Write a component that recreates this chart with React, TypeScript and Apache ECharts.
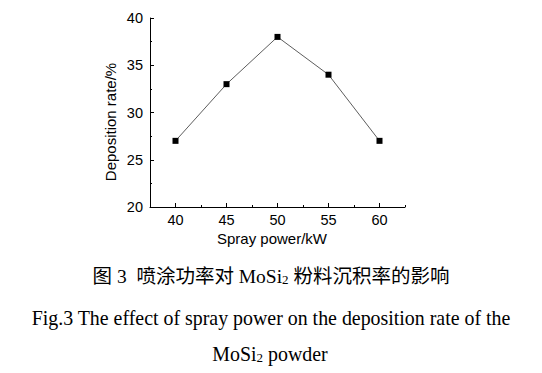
import React, { useEffect, useRef } from "react";
import * as echarts from "echarts";

const powers = [40, 45, 50, 55, 60];
const rates = [27, 33, 38, 34, 27];
const xTicks = [40, 45, 50, 55, 60];
const xName = "Spray power/kW";
const yName = "Deposition rate/%";
const captionCn1 = "图 3  喷涂功率对 MoSi";
const captionCn2 = " 粉料沉积率的影响";
const captionEn1 = "Fig.3 The effect of spray power on the deposition rate of the";
const captionEn2a = "MoSi";
const captionEn2b = " powder";

export default function App() {
  const ref = useRef<HTMLDivElement>(null);
  useEffect(() => {
    if (!ref.current) return;
    const chart = echarts.init(ref.current, null, { renderer: "svg" });
    const axisFont = "Liberation Sans, Arial, sans-serif";
    const serif = "Liberation Serif, Times New Roman, serif";
    chart.setOption({
      animation: false,
      backgroundColor: "#fff",
      grid: { left: 150, right: 137, top: 18, bottom: 166, containLabel: false },
      xAxis: [
        {
          type: "value",
          min: 37.5,
          max: 62.5,
          position: "bottom",
          axisLine: { show: true, lineStyle: { color: "#000", width: 1 } },
          axisTick: { show: true, inside: true, length: 4, customValues: xTicks, lineStyle: { color: "#000" } },
          axisLabel: { show: true, customValues: xTicks, margin: 5, fontFamily: axisFont, fontSize: 14.5, color: "#000" },
          splitLine: { show: false },
        },
        {
          type: "value",
          min: 37.5,
          max: 62.5,
          interval: 2.5,
          position: "bottom",
          axisLine: { show: false },
          axisTick: { show: true, inside: true, length: 2, lineStyle: { color: "#000" } },
          axisLabel: { show: false },
          splitLine: { show: false },
        },
      ],
      yAxis: {
        type: "value",
        min: 20,
        max: 40,
        interval: 5,
        axisLine: { show: true, lineStyle: { color: "#000", width: 1 } },
        axisTick: { show: true, inside: true, length: 4, lineStyle: { color: "#000" } },
        minorTick: { show: true, splitNumber: 2, length: 2, lineStyle: { color: "#000" } },
        axisLabel: { margin: 7, fontFamily: axisFont, fontSize: 14.5, color: "#000" },
        splitLine: { show: false },
        minorSplitLine: { show: false },
      },
      series: [
        {
          type: "line",
          xAxisIndex: 0,
          data: powers.map((p, i) => [p, rates[i]]),
          symbol: "rect",
          symbolSize: 6,
          itemStyle: { color: "#000" },
          lineStyle: { color: "#333", width: 0.8 },
        },
      ],
      graphic: [
        {
          type: "text",
          x: 272,
          y: 238,
          style: {
            text: xName,
            align: "center",
            verticalAlign: "middle",
            fontFamily: axisFont,
            fontSize: 15,
            fill: "#000",
          },
        },
        {
          type: "text",
          x: 110,
          y: 122,
          rotation: Math.PI / 2,
          style: {
            text: yName,
            align: "center",
            verticalAlign: "middle",
            fontFamily: axisFont,
            fontSize: 15,
            fill: "#000",
          },
        },
        {
          type: "text",
          x: 271,
          y: 275,
          style: {
            text: `{a|${captionCn1}}{s|2}{a|${captionCn2}}`,
            align: "center",
            verticalAlign: "middle",
            rich: {
              a: { fontFamily: serif + ", Noto Sans CJK SC", fontSize: 19.5, color: "#000", lineHeight: 22, verticalAlign: "bottom" },
              s: { fontFamily: serif, fontSize: 13, color: "#000", lineHeight: 22, verticalAlign: "bottom" },
            },
          },
        },
        {
          type: "text",
          x: 271,
          y: 318,
          style: {
            text: captionEn1,
            align: "center",
            verticalAlign: "middle",
            fontFamily: serif,
            fontSize: 19.9,
            fill: "#000",
          },
        },
        {
          type: "text",
          x: 270,
          y: 352,
          style: {
            text: `{a|${captionEn2a}}{s|2}{a|${captionEn2b}}`,
            align: "center",
            verticalAlign: "middle",
            rich: {
              a: { fontFamily: serif, fontSize: 19.9, color: "#000", lineHeight: 23, verticalAlign: "bottom" },
              s: { fontFamily: serif, fontSize: 13, color: "#000", lineHeight: 23, verticalAlign: "bottom" },
            },
          },
        },
      ],
    });
    return () => chart.dispose();
  }, []);
  return (
    <div
      ref={ref}
      style={{ position: "absolute", left: 0, top: 0, width: 542, height: 373, background: "#fff" }}
    />
  );
}
